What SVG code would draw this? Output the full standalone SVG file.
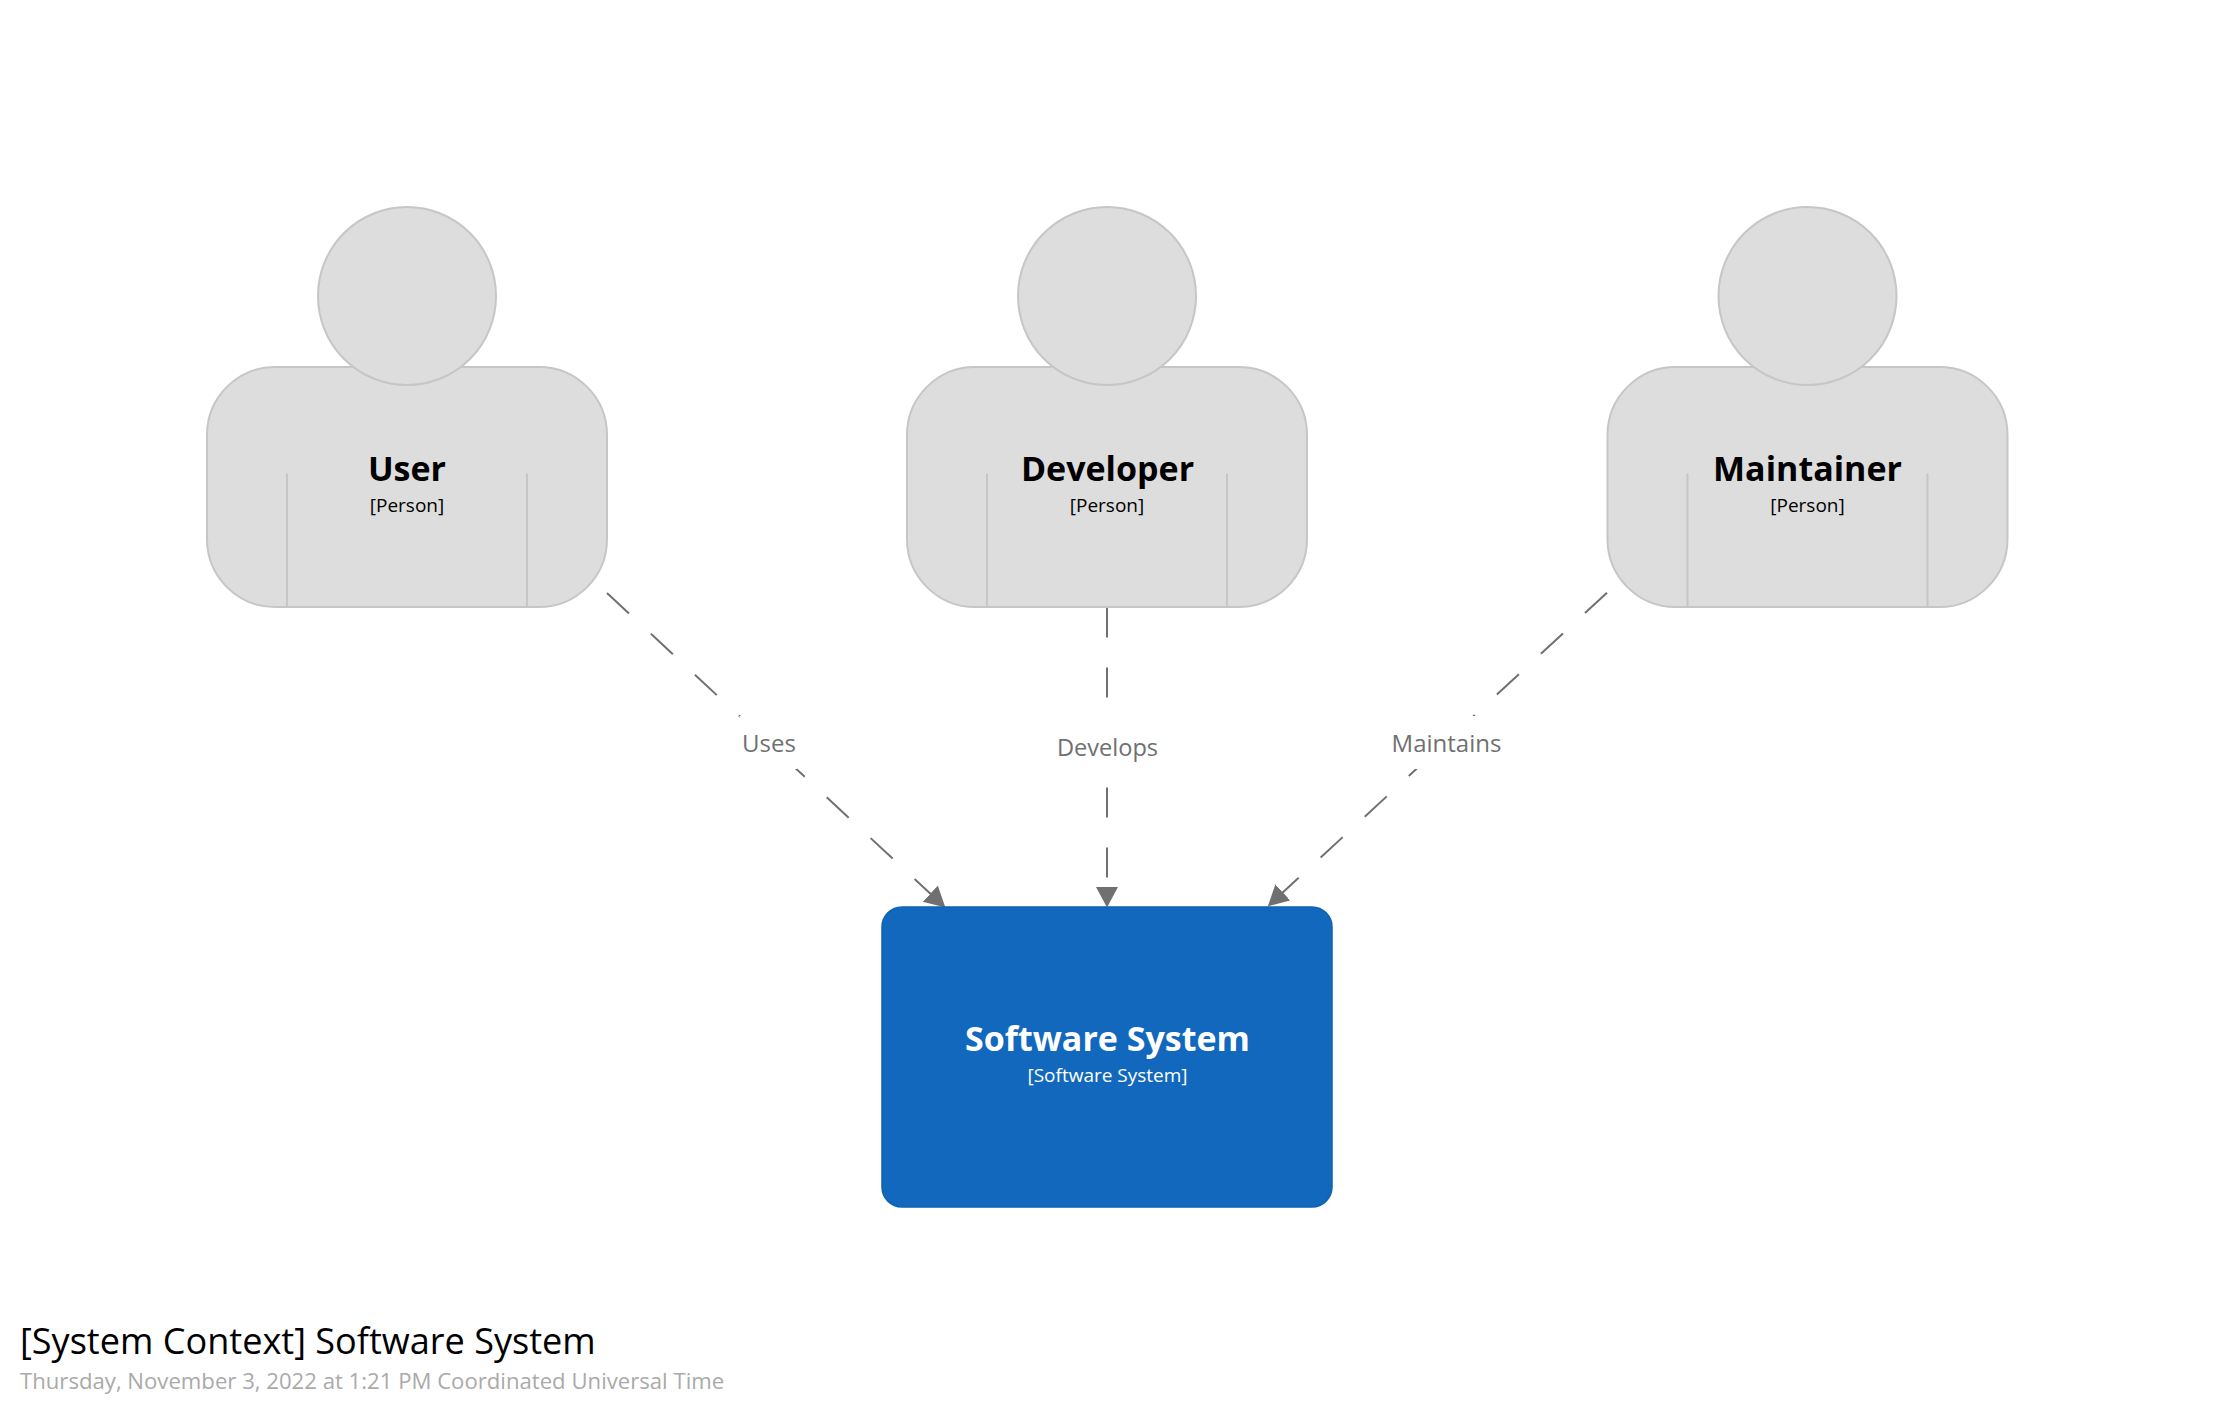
<svg xmlns="http://www.w3.org/2000/svg" width="2216" height="1416" viewBox="0 0 2216 1416">
<style>
text{font-family:"Open Sans","Noto Sans","DejaVu Sans",sans-serif;text-anchor:middle}
.body,.head{fill:#dddddd;stroke:#c6c6c6;stroke-width:2}
.arm{stroke:#c6c6c6;stroke-width:2;fill:none}
.name{font-size:34px;font-weight:700;fill:#000000}
.meta{font-size:19px;fill:#000000}
.link{stroke:#707070;stroke-width:2;stroke-dasharray:30 30;fill:none;marker-end:url(#arrow)}
.mask{fill:#ffffff}
.lbl{font-size:24px;fill:#707070}
</style>
<defs>
<marker id="arrow" markerUnits="userSpaceOnUse" markerWidth="24" markerHeight="24" refX="2" refY="11" orient="auto"><path d="M0 0L20.5 11L0 22Z" fill="#707070"/></marker>
</defs>
<rect width="2216" height="1416" fill="#ffffff"/>
<g id="connectors">
<path class="link" d="M607 593L931.8 895"/>
<rect class="mask" x="739.5" y="716" width="57.5" height="53"/>
<text class="lbl" x="769" y="751.7">Uses</text>
<path class="link" d="M1107 607.5L1107 889"/>
<rect class="mask" x="1052" y="720" width="111" height="60"/>
<text class="lbl" x="1107.5" y="755.5" style="font-size:23.6px">Develops</text>
<path class="link" d="M1607 592.7L1281.4 893.8"/>
<rect class="mask" x="1390" y="716" width="83.5" height="53"/>
<rect class="mask" x="1417.5" y="716" width="84" height="53"/>
<text class="lbl" x="1446.5" y="751.7">Maintains</text>
</g>
<g id="user">
<rect class="body" x="207" y="367" width="400" height="240" rx="68" ry="68"/>
<circle class="head" cx="407" cy="296" r="89"/>
<path class="arm" d="M287 473.5V607M527 473.5V607"/>
<text class="name" x="407" y="481">User</text>
<text class="meta" x="407" y="511.7">[Person]</text>
</g>
<g id="developer">
<rect class="body" x="907" y="367" width="400" height="240" rx="68" ry="68"/>
<circle class="head" cx="1107" cy="296" r="89"/>
<path class="arm" d="M987 473.5V607M1227 473.5V607"/>
<text class="name" x="1107.5" y="481">Developer</text>
<text class="meta" x="1107" y="511.7">[Person]</text>
</g>
<g id="maintainer">
<rect class="body" x="1607.5" y="367" width="400" height="240" rx="68" ry="68"/>
<circle class="head" cx="1807.5" cy="296" r="89"/>
<path class="arm" d="M1687.5 473.5V607M1927.5 473.5V607"/>
<text class="name" x="1807.5" y="481">Maintainer</text>
<text class="meta" x="1807.5" y="511.7">[Person]</text>
</g>
<g id="software-system">
<rect x="882" y="907" width="450" height="300" rx="20" ry="20" fill="#1168bd" stroke="#0f62b2" stroke-width="1.5"/>
<text x="1107.5" y="1050.5" font-size="34" font-weight="700" fill="#ffffff">Software System</text>
<text x="1107.5" y="1081.7" font-size="19" fill="#ffffff">[Software System]</text>
</g>
<g id="title">
<text x="20" y="1353.5" font-size="36.1" fill="#000000" style="text-anchor:start">[System Context] Software System</text>
<text x="20" y="1388.5" font-size="22.15" fill="#aaaaaa" style="text-anchor:start">Thursday, November 3, 2022 at 1:21 PM Coordinated Universal Time</text>
</g>
</svg>
